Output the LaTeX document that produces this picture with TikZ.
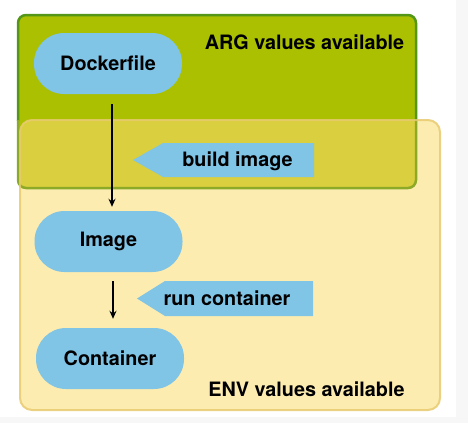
\documentclass[tikz,border=0pt]{standalone}
\usepackage{fontspec}
\setmainfont{TeX Gyre Heros}
\usetikzlibrary{arrows.meta}
\definecolor{argfill}{RGB}{170,192,0}
\definecolor{argline}{RGB}{84,150,24}
\definecolor{envfill}{RGB}{253,236,176}
\definecolor{envline}{RGB}{232,202,112}
\definecolor{overfill}{RGB}{218,207,62}
\definecolor{overgline}{RGB}{140,170,40}
\definecolor{nodeblue}{RGB}{128,196,230}
\definecolor{edgegray}{RGB}{247,247,247}
\begin{document}
\begin{tikzpicture}[x=1pt,y=-1pt,
  lbl/.style={font=\fontsize{19.8}{23}\selectfont\bfseries, text=black, inner sep=0pt},
  stadium/.style={fill=nodeblue, rounded corners=30pt, minimum width=148pt, minimum height=61pt, lbl},
  flow/.style={-{Stealth[length=8pt,width=7pt]}, line width=1.4pt},
  tag/.style={fill=nodeblue}]
\useasboundingbox (0,0) rectangle (468,423);
\fill[white] (0,0) rectangle (468,423);
\fill[edgegray] (456,0) rectangle (468,423);
\fill[edgegray] (0,417) rectangle (468,423);
% ARG area
\fill[argfill] (18,15) [rounded corners=8pt] rectangle (416,188);
% ENV area
\fill[envfill] (20,120) [rounded corners=12pt] rectangle (440,410);
% overlap
\begin{scope}
  \clip (18,15) [rounded corners=8pt] rectangle (416,188);
  \fill[overfill] (20,120) [rounded corners=12pt] rectangle (440,410);
\end{scope}
% borders
\begin{scope}
  \clip (0,0) rectangle (468,120);
  \draw[argline, line width=2.5pt] (18,15) [rounded corners=8pt] rectangle (416,188);
\end{scope}
\begin{scope}
  \clip (0,120) rectangle (468,200);
  \draw[overgline, line width=2.5pt] (18,15) [rounded corners=8pt] rectangle (416,188);
\end{scope}
\draw[envline, line width=2pt, opacity=0.85] (20,120) [rounded corners=12pt] rectangle (440,410);
% labels
\node[lbl] (arg) at (304.5,42) {ARG values available};
\node[lbl] (env) at (306.5,389) {ENV values available};
% nodes
\node[stadium] (docker) at (108,63.5) {Dockerfile};
\node[stadium] (image) at (108.5,241.5) {Image};
\node[stadium] (cont) at (110,358.5) {Container};
% tags
\fill[tag] (314,143) -- (163,143) -- (133,160) -- (163,177) -- (314,177) -- cycle;
\node[lbl] (build) at (237.5,161) {build image};
\fill[tag] (313,281) -- (165,281) -- (137,298.5) -- (165,316) -- (313,316) -- cycle;
\node[lbl] (run) at (227,298) {run container};
% arrows
\draw[flow] ([xshift=4pt,yshift=-10pt]docker.south) -- ([xshift=3.5pt,yshift=4pt]image.north);
\draw[flow] ([xshift=4.5pt,yshift=-9pt]image.south) -- ([xshift=3pt,yshift=9pt]cont.north);
\end{tikzpicture}
\end{document}
